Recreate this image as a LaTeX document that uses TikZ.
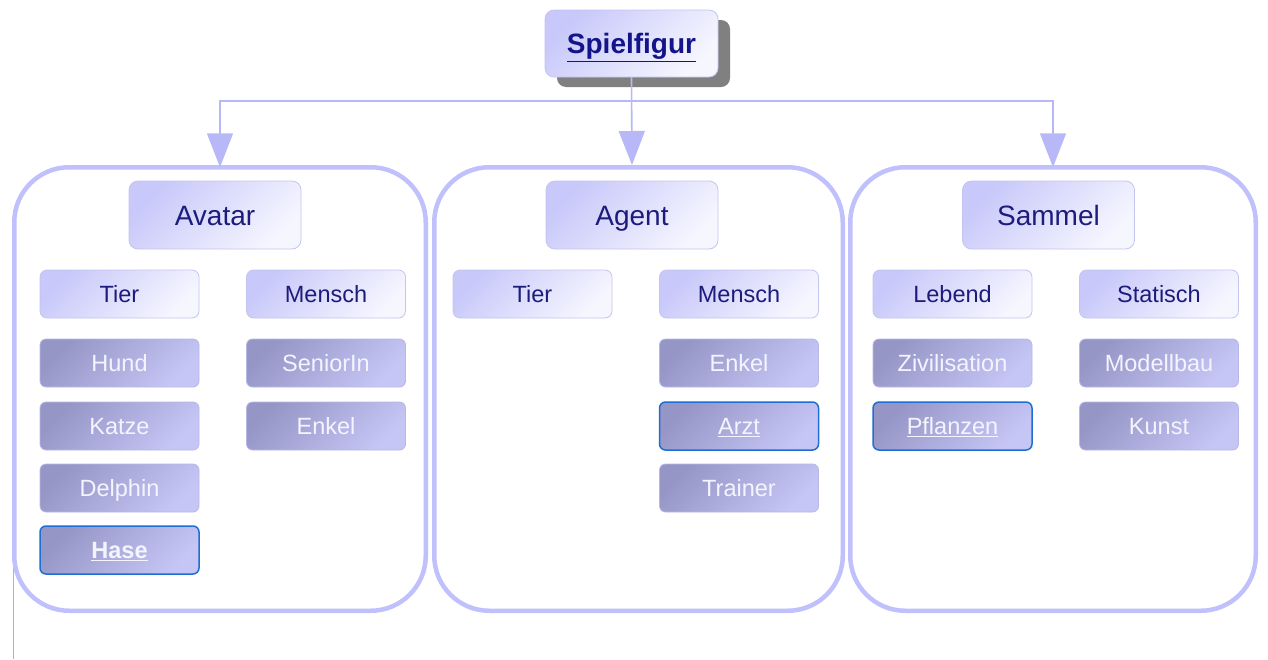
\documentclass[tikz,border=0pt]{standalone}
\usepackage{fontspec}
\setmainfont{Liberation Sans}
\usetikzlibrary{arrows.meta}
\definecolor{cont}{HTML}{C0C0FC}
\definecolor{conn}{HTML}{B8B8F8}
\definecolor{hdtl}{HTML}{C8C8FA}
\definecolor{hdbr}{HTML}{F6F6FF}
\definecolor{hddraw}{HTML}{C4C4F0}
\definecolor{hdtext}{HTML}{1C1C7C}
\definecolor{roottext}{HTML}{14148A}
\definecolor{lftl}{HTML}{9696C6}
\definecolor{lfbr}{HTML}{C6C6F6}
\definecolor{lfdraw}{HTML}{B8B8E8}
\definecolor{lftext}{HTML}{F4F4FF}
\definecolor{selb}{HTML}{1E6ED4}
\definecolor{shad}{HTML}{808080}
\definecolor{gline}{HTML}{B4B4B4}
\tikzset{
 container/.style={draw=cont, line width=4.5pt, fill=white, rounded corners=55pt, inner sep=0pt, outer sep=0pt, minimum height=443.5pt},
 hdbig/.style={draw=hddraw, line width=0.8pt, rounded corners=9pt, top color=hdtl, bottom color=hdbr, shading angle=45, minimum width=172pt, minimum height=68pt, inner sep=0pt, text=hdtext, font=\fontsize{28}{32}\selectfont, text height=24pt, text depth=4pt},
 hdsmall/.style={hdbig, rounded corners=7pt, minimum width=159pt, minimum height=48pt, font=\fontsize{23.5}{28}\selectfont, text height=21pt, text depth=4pt},
 leaf/.style={draw=lfdraw, line width=0.8pt, rounded corners=6pt, top color=lftl, bottom color=lfbr, shading angle=45, minimum width=159pt, minimum height=48pt, inner sep=0pt, text=lftext, font=\fontsize{23.5}{28}\selectfont, text height=21pt, text depth=4pt},
 sel/.style={leaf, draw=selb, line width=1.5pt},
 rootbox/.style={hdbig, minimum width=173pt, minimum height=67pt, font=\bfseries\fontsize{28}{32}\selectfont, text=roottext},
 shadowbox/.style={fill=shad, rounded corners=9pt, minimum width=173pt, minimum height=67pt, inner sep=0pt},
 connector/.style={draw=conn, line width=1.6pt, -{Triangle[width=26pt,length=34pt]}},
 grayline/.style={draw=gline, line width=1pt},
}
\begin{document}
\begin{tikzpicture}[x=1pt,y=-1pt]
\useasboundingbox (0,0) rectangle (1268,659);
% stray gray line at left
\coordinate (gtop) at (13,560);
\coordinate (gbot) at (13,659);
\draw[grayline] (gtop) -- (gbot);
% containers
\node[container, minimum width=411.5pt] (avc) at (220,389) {};
\node[container, minimum width=408.5pt] (agc) at (638.5,389) {};
\node[container, minimum width=405.5pt] (sac) at (1053,389) {};
% root
\node[shadowbox] (spielshadow) at (643.5,53.5) {};
\node[rootbox] (spiel) at (631.5,43.5) {\underline{Spielfigur}};
\coordinate (bus) at (632,101);
\coordinate (agtip) at (632,165);
\draw[connector] (spiel.south) -- (spiel.south |- bus) -| (avc.north);
\draw[connector] (spiel.south) -- (agtip);
\draw[connector] (spiel.south) -- (spiel.south |- bus) -| (sac.north);
% big headers
\node[hdbig] (avatar) at (215,215) {Avatar};
\node[hdbig] (agent) at (632,215) {Agent};
\node[hdbig] (sammel) at (1048.5,215) {Sammel};
% Avatar column
\node[hdsmall] (avtier) at (119.5,294) {Tier};
\node[hdsmall] (avmensch) at (326,294) {Mensch};
\node[leaf] (hund) at (119.5,363) {Hund};
\node[leaf] (katze) at (119.5,426) {Katze};
\node[leaf] (delphin) at (119.5,488) {Delphin};
\node[sel] (hase) at (119.5,550) {\bfseries\underline{Hase}};
\node[leaf] (senior) at (326,363) {SeniorIn};
\node[leaf] (avenkel) at (326,426) {Enkel};
% Agent column
\node[hdsmall] (agtier) at (532.5,294) {Tier};
\node[hdsmall] (agmensch) at (739,294) {Mensch};
\node[leaf] (agenkel) at (739,363) {Enkel};
\node[sel] (arzt) at (739,426) {\underline{Arzt}};
\node[leaf] (trainer) at (739,488) {Trainer};
% Sammel column
\node[hdsmall] (lebend) at (952.5,294) {Lebend};
\node[hdsmall] (statisch) at (1159,294) {Statisch};
\node[leaf] (zivil) at (952.5,363) {Zivilisation};
\node[sel] (pflanzen) at (952.5,426) {\underline{Pflanzen}};
\node[leaf] (modell) at (1159,363) {Modellbau};
\node[leaf] (kunst) at (1159,426) {Kunst};
\end{tikzpicture}
\end{document}
